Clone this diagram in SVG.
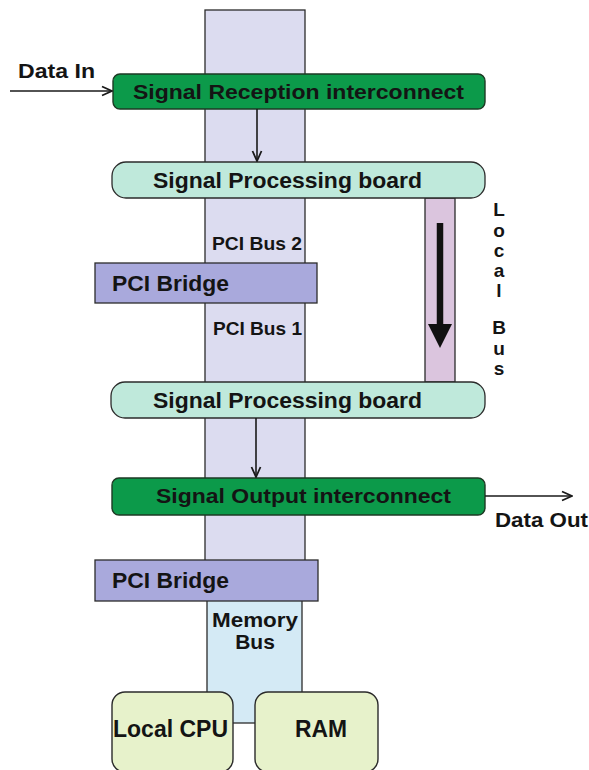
<svg xmlns="http://www.w3.org/2000/svg" width="589" height="770" viewBox="0 0 589 770">
  <defs>
    <marker id="chev" viewBox="0 0 12 12" refX="11" refY="6" markerWidth="12" markerHeight="12" markerUnits="userSpaceOnUse" orient="auto">
      <path d="M1,1.5 L11,6 L1,10.5" fill="none" stroke="#1a1a1a" stroke-width="1.8"/>
    </marker>
  </defs>
  <style>
    .t { font-family: "Liberation Sans", Arial, sans-serif; font-weight: bold; fill: #141414; }
    .edge { stroke: #2b2b2b; stroke-width: 1.3; }
    .green { fill: #0c9a4a; stroke: #1d3a24; stroke-width: 1.4; }
    .mint { fill: #bfe9db; stroke: #2b2b2b; stroke-width: 1.3; }
    .bridge { fill: #a9a9dc; stroke: #2b2b2b; stroke-width: 1.3; }
    .box { fill: #e7f2cb; stroke: #2b2b2b; stroke-width: 1.4; }
    .conn { stroke: #1a1a1a; stroke-width: 1.6; fill: none; marker-end: url(#chev); }
  </style>
  <rect width="589" height="770" fill="#ffffff"/>

  <!-- buses -->
  <g id="pci-bus">
    <rect class="edge" x="205" y="10" width="100" height="552" fill="#dcdcf0"/>
  </g>
  <g id="memory-bus">
    <rect class="edge" x="207" y="598" width="95" height="125" fill="#d4eaf5"/>
  </g>
  <g id="local-bus">
    <rect class="edge" x="425" y="198" width="30" height="184" fill="#dbc5de"/>
    <line x1="440" y1="223" x2="440" y2="330" stroke="#111" stroke-width="6.5"/>
    <polygon points="428,324 452,324 440,348" fill="#111"/>
    <g class="t" font-size="19" text-anchor="middle">
      <text x="499" y="216">L</text>
      <text x="499" y="237">o</text>
      <text x="499" y="257">c</text>
      <text x="499" y="277">a</text>
      <text x="499" y="297">l</text>
      <text x="499" y="334">B</text>
      <text x="499" y="355">u</text>
      <text x="499" y="375">s</text>
    </g>
  </g>

  <!-- nodes -->
  <g id="signal-reception">
    <rect class="green" x="113" y="74" width="372" height="35" rx="7"/>
    <text class="t" x="133" y="99" font-size="21" textLength="331" lengthAdjust="spacingAndGlyphs">Signal Reception interconnect</text>
  </g>
  <g id="processing-board-1">
    <rect class="mint" x="112" y="162" width="373" height="36" rx="14"/>
    <text class="t" x="153" y="188" font-size="22" textLength="269" lengthAdjust="spacingAndGlyphs">Signal Processing board</text>
  </g>
  <g id="pci-bus-2-label">
    <text class="t" x="212" y="250" font-size="18" textLength="90" lengthAdjust="spacingAndGlyphs">PCI Bus 2</text>
  </g>
  <g id="pci-bridge-1">
    <rect class="bridge" x="95" y="263" width="222" height="40"/>
    <text class="t" x="112" y="291" font-size="22" textLength="117" lengthAdjust="spacingAndGlyphs">PCI Bridge</text>
  </g>
  <g id="pci-bus-1-label">
    <text class="t" x="213" y="335" font-size="18" textLength="89" lengthAdjust="spacingAndGlyphs">PCI Bus 1</text>
  </g>
  <g id="processing-board-2">
    <rect class="mint" x="111" y="382" width="374" height="36" rx="14"/>
    <text class="t" x="153" y="408" font-size="22" textLength="269" lengthAdjust="spacingAndGlyphs">Signal Processing board</text>
  </g>
  <g id="signal-output">
    <rect class="green" x="112" y="478" width="373" height="37" rx="7"/>
    <text class="t" x="156" y="503" font-size="21" textLength="295" lengthAdjust="spacingAndGlyphs">Signal Output interconnect</text>
  </g>
  <g id="pci-bridge-2">
    <rect class="bridge" x="95" y="560" width="223" height="41"/>
    <text class="t" x="112" y="588" font-size="22" textLength="117" lengthAdjust="spacingAndGlyphs">PCI Bridge</text>
  </g>
  <g id="memory-bus-label" class="t" font-size="21" text-anchor="middle">
    <text x="255" y="627" textLength="86" lengthAdjust="spacingAndGlyphs">Memory</text>
    <text x="255" y="649">Bus</text>
  </g>
  <g id="local-cpu">
    <rect class="box" x="112" y="692" width="121" height="80" rx="13"/>
    <text class="t" x="113" y="737" font-size="23" textLength="115" lengthAdjust="spacingAndGlyphs">Local CPU</text>
  </g>
  <g id="ram">
    <rect class="box" x="255" y="692" width="123" height="80" rx="13"/>
    <text class="t" x="295" y="737" font-size="23" textLength="52" lengthAdjust="spacingAndGlyphs">RAM</text>
  </g>
  <g id="data-in-label">
    <text class="t" x="18" y="78" font-size="21" textLength="77" lengthAdjust="spacingAndGlyphs">Data In</text>
  </g>
  <g id="data-out-label">
    <text class="t" x="495" y="527" font-size="21" textLength="93" lengthAdjust="spacingAndGlyphs">Data Out</text>
  </g>

  <!-- connectors -->
  <g id="connectors">
    <line class="conn" x1="10" y1="91" x2="112" y2="91"/>
    <line class="conn" x1="257" y1="109" x2="257" y2="161"/>
    <line class="conn" x1="256" y1="418" x2="256" y2="477"/>
    <line class="conn" x1="485" y1="496" x2="572" y2="496"/>
  </g>
</svg>
